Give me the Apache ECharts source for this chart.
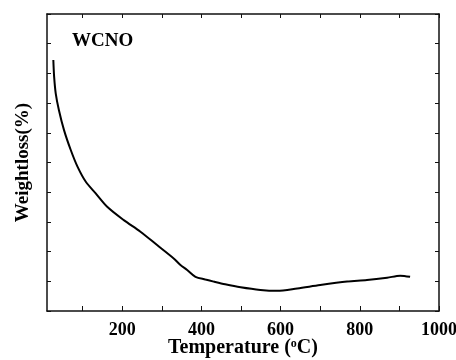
<!DOCTYPE html>
<html>
<head>
<meta charset="utf-8">
<script src="https://cdn.jsdelivr.net/npm/echarts@6/dist/echarts.min.js"></script>
<style>
  html, body { margin: 0; padding: 0; background: #fff; }
  #chart { width: 456px; height: 360px; }
</style>
</head>
<body>
<div id="chart"></div>
<script>
// temperature (°C) and weight loss (arbitrary units, axis has no labels)
const temps = [26, 28, 32, 40, 53, 70, 87, 108, 133, 162, 204, 246, 288, 330, 347, 364, 385, 410, 431, 460, 499, 549, 591, 642, 700, 768, 818, 869, 902, 927]
const weights = [8.45, 7.89, 7.33, 6.77, 6.09, 5.42, 4.86, 4.35, 3.96, 3.51, 3.06, 2.67, 2.22, 1.77, 1.55, 1.38, 1.15, 1.06, 0.99, 0.90, 0.80, 0.71, 0.68, 0.76, 0.875, 0.99, 1.04, 1.12, 1.19, 1.15]
const xLabels = [200, 400, 600, 800, 1000]
const xTicks = [100, 200, 300, 400, 500, 600, 700, 800, 900, 1000]

const font = 'Liberation Serif, Times New Roman, serif'
const axisColor = '#111'

const chart = echarts.init(document.getElementById('chart'))

const option = {
  backgroundColor: '#fff',
  animation: false,
  grid: { left: 47, top: 14, right: 17, bottom: 49, outerBoundsMode: 'none' },
  title: {
    text: 'WCNO',
    left: 67,
    top: 27,
    textStyle: { fontFamily: font, fontWeight: 'bold', fontSize: 19, color: '#000' }
  },
  xAxis: [
    {
      type: 'value',
      min: 10,
      max: 1000,
      name: 'Temperature ({sup|o}C)',
      nameLocation: 'middle',
      nameGap: 27,
      nameMoveOverlap: false,
      nameTextStyle: {
        fontFamily: font, fontWeight: 'bold', fontSize: 20, color: '#000',
        rich: { sup: { fontFamily: font, fontWeight: 'bold', fontSize: 12, verticalAlign: 'top', padding: [0, 0, 8, 0] } }
      },
      axisLine: { show: true, onZero: false, lineStyle: { color: axisColor, width: 1.5 } },
      axisTick: { show: true, inside: true, length: 5, customValues: xTicks, lineStyle: { color: axisColor } },
      axisLabel: {
        customValues: xLabels, margin: 10, formatter: v => String(v),
        fontFamily: font, fontWeight: 'bold', fontSize: 18, color: '#000'
      },
      splitLine: { show: false }
    },
    {
      type: 'value',
      position: 'top',
      min: 10,
      max: 1000,
      axisLine: { show: true, onZero: false, lineStyle: { color: axisColor, width: 1.5 } },
      axisTick: { show: true, inside: true, length: 4, customValues: xTicks, lineStyle: { color: axisColor } },
      axisLabel: { show: false },
      splitLine: { show: false }
    }
  ],
  yAxis: [
    {
      type: 'value',
      min: 0,
      max: 10,
      interval: 1,
      name: 'Weightloss(%)',
      nameLocation: 'middle',
      nameGap: 14,
      nameMoveOverlap: false,
      nameTextStyle: { fontFamily: font, fontWeight: 'bold', fontSize: 19, color: '#000' },
      axisLine: { show: true, onZero: false, lineStyle: { color: axisColor, width: 1.5 } },
      axisTick: { show: true, inside: true, length: 4, lineStyle: { color: axisColor } },
      axisLabel: { show: false },
      splitLine: { show: false }
    },
    {
      type: 'value',
      position: 'right',
      min: 0,
      max: 10,
      interval: 1,
      axisLine: { show: true, onZero: false, lineStyle: { color: axisColor, width: 1.5 } },
      axisTick: { show: true, inside: true, length: 4, lineStyle: { color: axisColor } },
      axisLabel: { show: false },
      splitLine: { show: false }
    }
  ],
  series: [
    {
      type: 'line',
      data: temps.map((t, i) => [t, weights[i]]),
      smooth: 0.3,
      showSymbol: false,
      lineStyle: { color: '#000', width: 2 }
    }
  ]
}

chart.setOption(option)
</script>
</body>
</html>
